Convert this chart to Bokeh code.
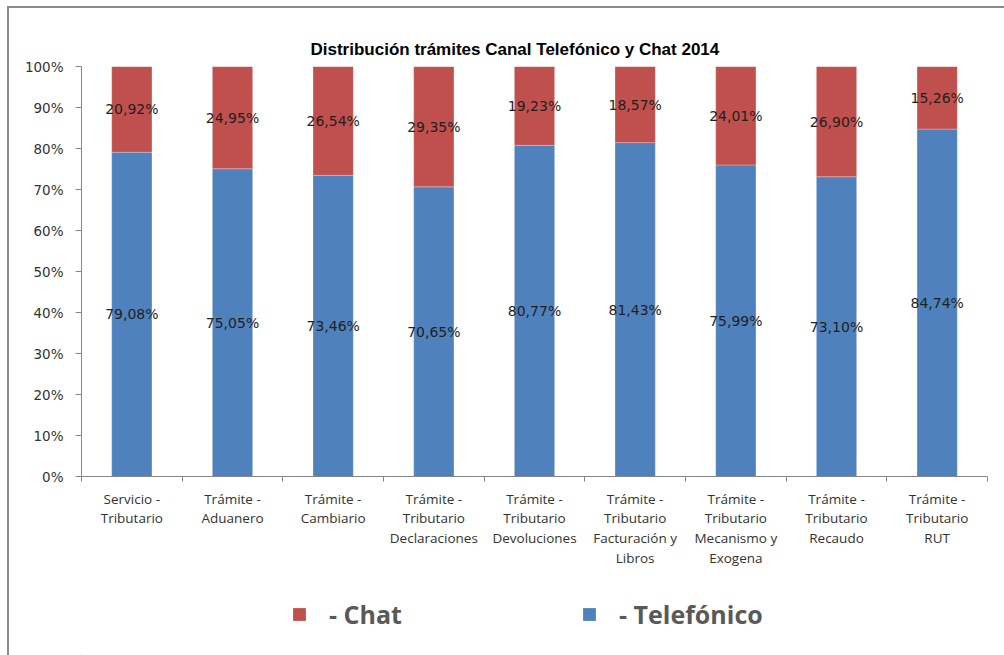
from bokeh.plotting import figure
from bokeh.layouts import column
from bokeh.models import (ColumnDataSource, Range1d, FixedTicker, NumeralTickFormatter,
                          Legend, LegendItem)
from bokeh.core.properties import value
from bokeh.embed import file_html
from bokeh.resources import INLINE

categories = ["Servicio -\nTributario", "Trámite -\nAduanero", "Trámite -\nCambiario",
              "Trámite -\nTributario\nDeclaraciones", "Trámite -\nTributario\nDevoluciones",
              "Trámite -\nTributario\nFacturación y\nLibros", "Trámite -\nTributario\nMecanismo y\nExogena",
              "Trámite -\nTributario\nRecaudo", "Trámite -\nTributario\nRUT"]
telefonico = [79.08, 75.05, 73.46, 70.65, 80.77, 81.43, 75.99, 73.10, 84.74]
chat = [20.92, 24.95, 26.54, 29.35, 19.23, 18.57, 24.01, 26.90, 15.26]
series_names = ["- Chat", "- Telefónico"]
title_text = "Distribución  trámites Canal Telefónico y Chat 2014"

RED = "#C0504D"
BLUE = "#4F81BD"

xs = list(range(1, len(categories) + 1))
tel = [v / 100 for v in telefonico]
ch = [v / 100 for v in chat]
src = ColumnDataSource(dict(
    x=xs, tel=tel, top=[t + c for t, c in zip(tel, ch)],
    y_tel=[t / 2 for t in tel], y_chat=[t + c / 2 for t, c in zip(tel, ch)],
    tel_lbl=[f"{v:.2f}%".replace(".", ",") for v in telefonico],
    chat_lbl=[f"{v:.2f}%".replace(".", ",") for v in chat],
))

p = figure(width=1004, height=595, output_backend="svg", toolbar_location=None,
           x_range=Range1d(0.5, len(categories) + 0.5), y_range=Range1d(0, 1),
           min_border_left=81, min_border_right=17, min_border_top=66, min_border_bottom=119)
p.outline_line_color = None
p.xgrid.visible = False
p.ygrid.visible = False
p.background_fill_color = "white"
p.border_fill_alpha = 0

p.title.text = title_text
p.title.align = "left"
p.title.offset = 229
p.title.text_font = "Liberation Sans"
p.title.text_font_style = "bold"
p.title.text_font_size = "17px"
p.title.text_color = "#000000"
p.title.standoff = 16

r_tel = p.vbar(x="x", bottom=0, top="tel", width=0.4, source=src, fill_color=BLUE,
               line_color="white", line_alpha=0.5, line_width=0.5)
r_chat = p.vbar(x="x", bottom="tel", top="top", width=0.4, source=src, fill_color=RED,
                line_color="white", line_alpha=0.5, line_width=0.5)

lbl_kw = dict(source=src, text_align="center", text_baseline="middle",
              text_font=value("DejaVu Sans"), text_font_size="14px", text_color="#1f1f1f")
p.text(x="x", y="y_chat", text="chat_lbl", **lbl_kw)
p.text(x="x", y="y_tel", text="tel_lbl", **lbl_kw)

# y axis
ya = p.yaxis[0]
ya.ticker = FixedTicker(ticks=[i / 10 for i in range(11)], minor_ticks=[])
ya.formatter = NumeralTickFormatter(format="0%")
ya.axis_line_color = "#868686"
ya.major_tick_line_color = "#868686"
ya.major_tick_out = 6
ya.major_tick_in = 0
ya.minor_tick_line_color = None
ya.major_label_text_font = "DejaVu Sans"
ya.major_label_text_font_size = "13.5px"
ya.major_label_text_color = "#333333"
ya.major_label_standoff = 12

# x axis
xa = p.xaxis[0]
xa.ticker = FixedTicker(ticks=xs, minor_ticks=[i + 0.5 for i in range(len(categories) + 1)])
xa.major_label_overrides = {x: c for x, c in zip(xs, categories)}
xa.axis_line_color = "#868686"
xa.major_tick_line_color = None
xa.major_tick_out = 0
xa.major_tick_in = 0
xa.minor_tick_line_color = "#868686"
xa.minor_tick_out = 5
xa.minor_tick_in = 0
xa.major_label_text_font = "Open Sans"
xa.major_label_text_font_size = "13.5px"
xa.major_label_text_color = "#333333"
xa.major_label_text_line_height = 1.1
xa.major_label_standoff = 8

# legend strip
lg = figure(width=1004, height=60, output_backend="svg", toolbar_location=None,
            x_range=Range1d(0, 1004), y_range=Range1d(0, 60), min_border=0)
lg.axis.visible = False
lg.grid.visible = False
lg.outline_line_color = None
lg.background_fill_alpha = 0
lg.border_fill_alpha = 0
d_chat = lg.vbar(x=[-500], top=[1], width=1, fill_color=RED, line_color=None)
d_tel = lg.vbar(x=[-500], top=[1], width=1, fill_color=BLUE, line_color=None)
legend = Legend(items=[LegendItem(label=series_names[0], renderers=[d_chat]),
                       LegendItem(label=series_names[1], renderers=[d_tel])],
                orientation="horizontal", location=(210, 24),
                glyph_width=16, glyph_height=16, label_standoff=22, label_width=252, spacing=0,
                padding=0, margin=0, border_line_color=None, background_fill_alpha=0,
                label_text_font="Open Sans", label_text_font_size="25px",
                label_text_font_style="bold", label_text_color="#595959")
lg.add_layout(legend)

layout = column(p, lg, spacing=0)
layout.styles = {"background": "linear-gradient(#8a8a8a,#8a8a8a) 7px 6px / 2px 100% no-repeat, "
                               "linear-gradient(#8a8a8a,#8a8a8a) 7px 6px / 100% 2px no-repeat, white"}

open("out.html", "w").write(file_html(layout, INLINE))
